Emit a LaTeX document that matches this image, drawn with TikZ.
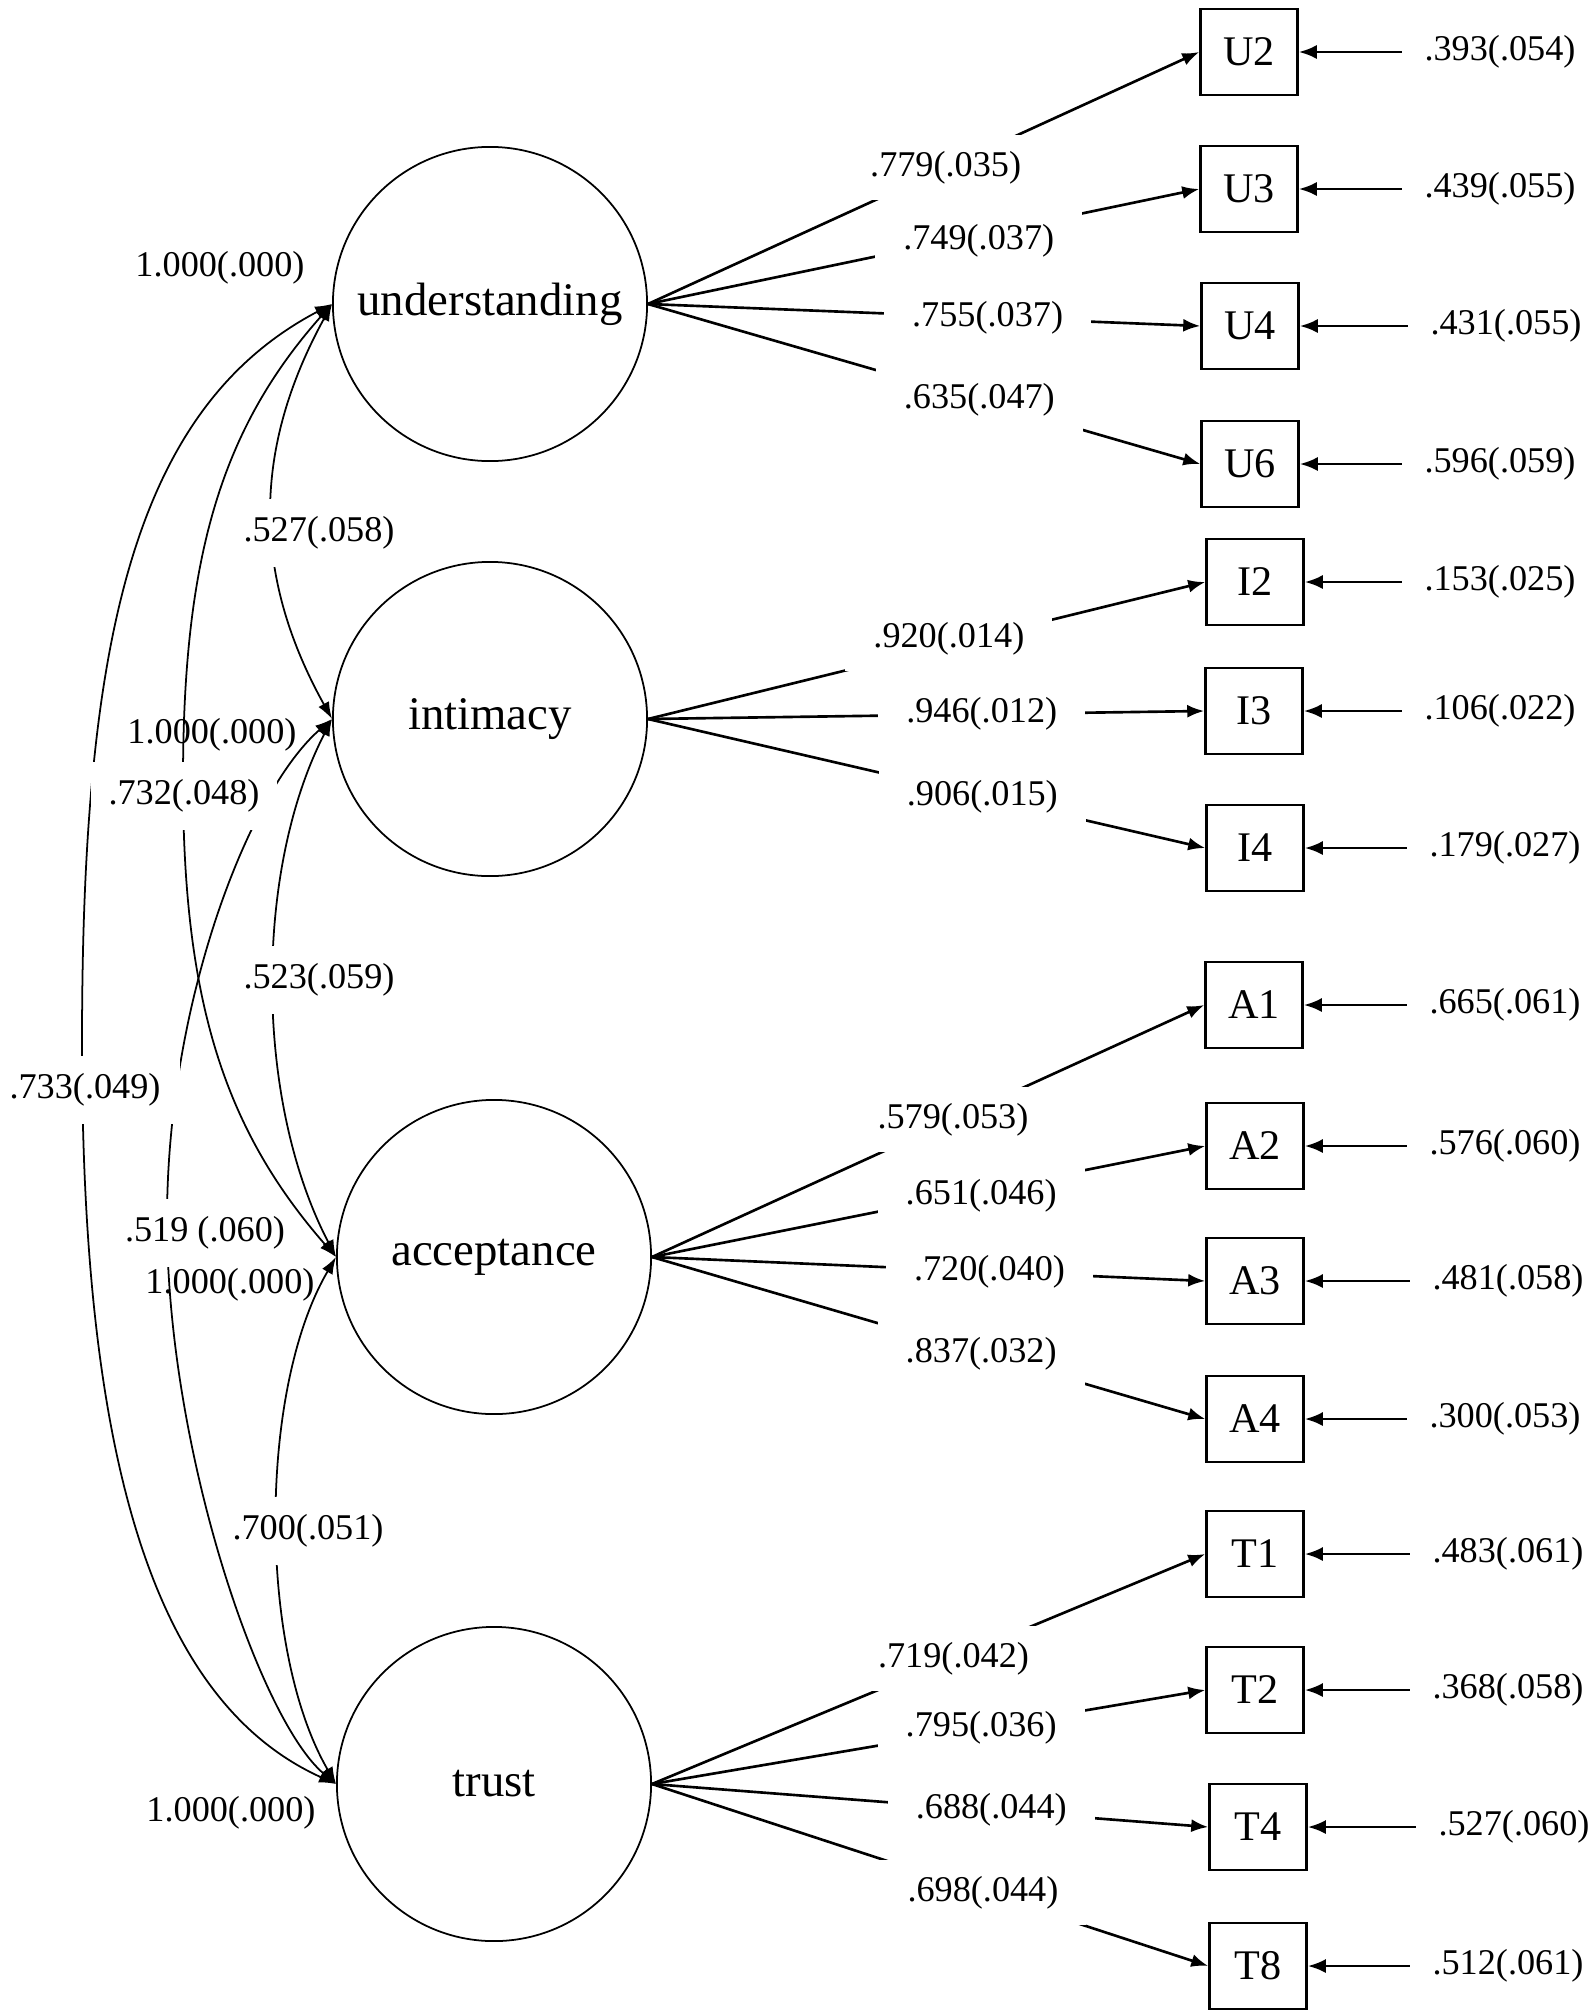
\documentclass[tikz,border=0pt]{standalone}
\usepackage{fontspec}
\setmainfont{Liberation Serif}
\usetikzlibrary{arrows.meta}
\begin{document}
\begin{tikzpicture}[x=0.01cm, y=-0.01cm,
  latc/.style={circle, draw, line width=0.5pt, minimum size=3.14cm, inner sep=0pt, font=\fontsize{13.3}{15}\selectfont},
  obsbox/.style={draw, line width=0.7pt, minimum width=0.97cm, minimum height=0.86cm, inner sep=0pt, font=\fontsize{12}{14}\selectfont},
  numlab/.style={font=\fontsize{10.3}{12}\selectfont, inner sep=0pt},
  lodlab/.style={numlab, fill=white, inner xsep=0.28cm, inner ysep=0.16cm},
  covlab/.style={numlab, fill=white, inner xsep=0.12cm, inner ysep=0.18cm},
  reslab/.style={numlab, inner xsep=0.22cm},
  loadarr/.style={line width=0.75pt, -{Latex[length=0.17cm,width=0.13cm]}},
  resarr/.style={line width=0.8pt, -{Latex[length=0.18cm,width=0.14cm]}},
  covarr/.style={line width=0.5pt, {Latex[length=0.17cm,width=0.12cm]}-{Latex[length=0.17cm,width=0.12cm]}}
]
\useasboundingbox[fill=white] (0,0) rectangle (1593,2012);

% latent variables
\node[latc] (U) at (490,304) {understanding};
\node[latc] (I) at (490,719) {intimacy};
\node[latc] (A) at (494,1257) {acceptance};
\node[latc] (T) at (494,1784) {trust};

% indicators
\node[obsbox] (U2) at (1249,52) {U2};
\node[obsbox] (U3) at (1249,189) {U3};
\node[obsbox] (U4) at (1250,326) {U4};
\node[obsbox] (U6) at (1250,464) {U6};
\node[obsbox] (I2) at (1255,582) {I2};
\node[obsbox] (I3) at (1254,711) {I3};
\node[obsbox] (I4) at (1255,848) {I4};
\node[obsbox] (A1) at (1254,1005) {A1};
\node[obsbox] (A2) at (1255,1146) {A2};
\node[obsbox] (A3) at (1255,1281) {A3};
\node[obsbox] (A4) at (1255,1419) {A4};
\node[obsbox] (T1) at (1255,1554) {T1};
\node[obsbox] (T2) at (1255,1690) {T2};
\node[obsbox] (T4) at (1258,1827) {T4};
\node[obsbox] (T8) at (1258,1966) {T8};

% loadings
\draw[loadarr] (U.east) -- node[lodlab,pos=0.54]{.779(.035)} (U2.west);
\draw[loadarr] (U.east) -- node[lodlab,pos=0.60,yshift=-0.06cm]{.749(.037)} (U3.west);
\draw[loadarr] (U.east) -- node[lodlab,pos=0.615]{.755(.037)} (U4.west);
\draw[loadarr] (U.east) -- node[lodlab,pos=0.60]{.635(.047)} (U6.west);

\draw[loadarr] (I.east) -- node[lodlab,pos=0.54,yshift=0.06cm]{.920(.014)} (I2.west);
\draw[loadarr] (I.east) -- node[lodlab,pos=0.60]{.946(.012)} (I3.west);
\draw[loadarr] (I.east) -- node[lodlab,pos=0.60]{.906(.015)} (I4.west);

\draw[loadarr] (A.east) -- node[lodlab,pos=0.545]{.579(.053)} (A1.west);
\draw[loadarr] (A.east) -- node[lodlab,pos=0.595,yshift=-0.05cm]{.651(.046)} (A2.west);
\draw[loadarr] (A.east) -- node[lodlab,pos=0.61]{.720(.040)} (A3.west);
\draw[loadarr] (A.east) -- node[lodlab,pos=0.595]{.837(.032)} (A4.west);

\draw[loadarr] (T.east) -- node[lodlab,pos=0.545]{.719(.042)} (T1.west);
\draw[loadarr] (T.east) -- node[lodlab,pos=0.595]{.795(.036)} (T2.west);
\draw[loadarr] (T.east) -- node[lodlab,pos=0.61]{.688(.044)} (T4.west);
\draw[loadarr] (T.east) -- node[lodlab,pos=0.595]{.698(.044)} (T8.west);

% residuals
\node[reslab] (rU2) at (1500,52) {.393(.054)};
\node[reslab] (rU3) at (1500,189) {.439(.055)};
\node[reslab] (rU4) at (1506,326) {.431(.055)};
\node[reslab] (rU6) at (1500,464) {.596(.059)};
\node[reslab] (rI2) at (1500,582) {.153(.025)};
\node[reslab] (rI3) at (1500,711) {.106(.022)};
\node[reslab] (rI4) at (1505,848) {.179(.027)};
\node[reslab] (rA1) at (1505,1005) {.665(.061)};
\node[reslab] (rA2) at (1505,1146) {.576(.060)};
\node[reslab] (rA3) at (1508,1281) {.481(.058)};
\node[reslab] (rA4) at (1505,1419) {.300(.053)};
\node[reslab] (rT1) at (1508,1554) {.483(.061)};
\node[reslab] (rT2) at (1508,1690) {.368(.058)};
\node[reslab] (rT4) at (1514,1827) {.527(.060)};
\node[reslab] (rT8) at (1508,1966) {.512(.061)};
\foreach \v in {U2,U3,U4,U6,I2,I3,I4,A1,A2,A3,A4,T1,T2,T4,T8}
  \draw[resarr] (r\v.west) -- (\v.east);

% covariances
\draw[covarr] (U.west) .. controls (252,450) and (252,575) .. (I.west);
\draw[covarr] (I.west) .. controls (254,870) and (254,1100) .. (A.west);
\draw[covarr] (A.west) .. controls (258,1390) and (258,1650) .. (T.west);
\draw[covarr] (U.west) .. controls (220,430) and (183,560) .. (183,780)
                       .. controls (183,1000) and (224,1129) .. (A.west);
\draw[covarr] (U.west) .. controls (130,410) and (82,650) .. (82,1044)
                       .. controls (82,1450) and (150,1700) .. (T.west);
\draw[covarr] (I.west) .. controls (250,790) and (167,1000) .. (167,1220)
                       .. controls (167,1450) and (260,1720) .. (T.west);

% covariance labels
\node[covlab] (c1) at (319,533) {.527(.058)};
\node[covlab] (c2) at (319,980) {.523(.059)};
\node[covlab, inner xsep=0.08cm] (c3) at (308,1531) {.700(.051)};
\node[covlab, inner xsep=0.18cm] (c4) at (184,796) {.732(.048)};
\node[covlab, inner xsep=0.2cm] (c5) at (85,1090) {.733(.049)};
\node[covlab, inner xsep=0pt] (c6) at (205,1233) {.519 (.060)};

% variance labels
\node[numlab] (vU) at (220,268) {1.000(.000)};
\node[numlab] (vI) at (212,735) {1.000(.000)};
\node[numlab] (vA) at (230,1285) {1.000(.000)};
\node[numlab] (vT) at (231,1813) {1.000(.000)};
\end{tikzpicture}
\end{document}
